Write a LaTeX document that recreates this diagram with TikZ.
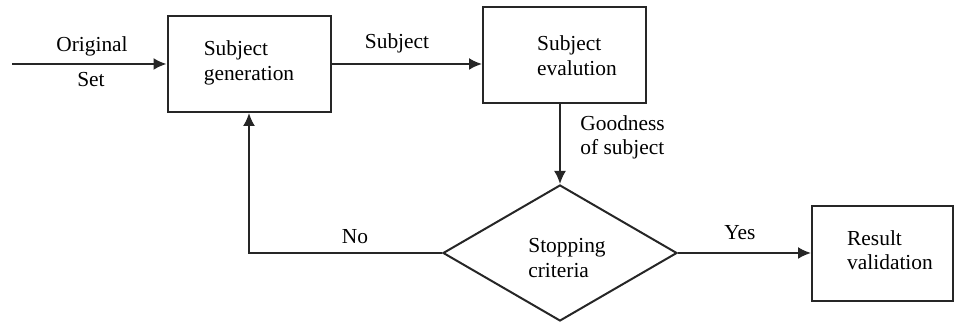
\documentclass[tikz,border=0pt]{standalone}
\usepackage{fontspec}
\setmainfont{Liberation Serif}
\usetikzlibrary{arrows.meta,shapes.geometric}

\tikzset{
	box/.style = {draw = black!85, line width = 1pt, minimum width = 81.5pt, minimum height = 48pt, inner sep = 0pt},
	decision/.style = {draw = black!85, line width = 1pt, diamond, aspect = 1.72, minimum width = 117pt, minimum height = 68pt, inner sep = 0pt},
	txt/.style = {align = left, inner sep = 0pt, font = \fontsize{10.7}{12.3}\selectfont},
	flow/.style = {draw = black!85, line width = 1pt, -{Latex[length = 6.5pt, width = 6pt]}}
}

\begin{document}
\begin{tikzpicture}[x = .5pt, y = -.5pt]
	\useasboundingbox (0, 0) rectangle (954, 324);
	
	% shapes
	\node [box] (gen) at (249, 64) {};
	\node [box] (eval) at (564.5, 55.5) {};
	\node [decision] (stop) at (560, 253) {};
	\node [box, minimum width = 70.5pt, minimum height = 47.5pt] (res) at (882.5, 253.5) {};
	
	% texts in the shapes
	\node [txt] (gentxt) at (249, 63) {Subject\\generation};
	\node [txt] (evaltxt) at (577, 55.5) {Subject\\evalution};
	\node [txt] (stoptxt) at (567, 258) {Stopping\\criteria};
	\node [txt] (restxt) at (890, 250) {Result\\validation};
	
	% connectors
	\coordinate (start) at (12, 64);
	\draw [flow] (start) -- (gen.west);
	\draw [flow] (gen.east) -- (gen.east -| eval.west);
	\draw [flow] (eval.south -| stop.north) -- (stop.north);
	\draw [flow] (stop.west) -| (gen.south);
	\draw [flow] (stop.east) -- (stop.east -| res.west);
	
	% labels
	\node [txt] (orig) at (92, 46) {Original};
	\node [txt] (set) at (91, 80) {Set};
	\node [txt] (subj) at (397, 43) {Subject};
	\node [txt, anchor = west] (good) at (580, 137.5) {Goodness\\of subject};
	\node [txt] (no) at (355, 237) {No};
	\node [txt] (yes) at (740, 233) {Yes};
\end{tikzpicture}
\end{document}
